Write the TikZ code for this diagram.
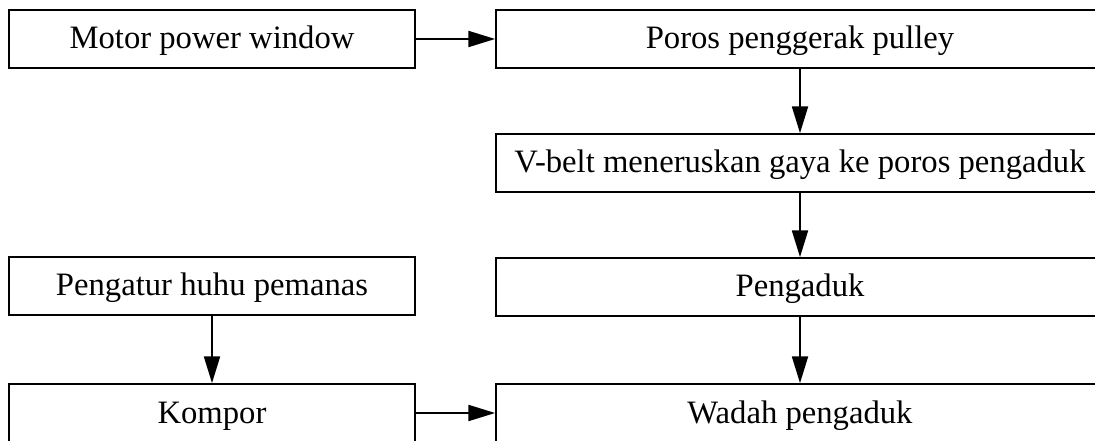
\documentclass[tikz,border=0pt]{standalone}
\usepackage{fontspec}
\setmainfont{Liberation Serif}
\usepackage{tikz}
\usetikzlibrary{arrows.meta}

\tikzset{
    blok/.style={rectangle, draw, line width=1.3pt, minimum height=43.5pt, inner sep=0pt, text height=15pt, text depth=0pt, font=\fontsize{24.5}{28}\selectfont},
    kiri/.style={blok, minimum width=304.5pt},
    kanan/.style={blok, minimum width=456pt},
    panah/.style={-{Triangle[length=20pt,width=12pt]}, line width=1.3pt}
}

\begin{document}
\begin{tikzpicture}[x=0.75pt, y=-0.75pt]
                    \useasboundingbox (0, 0) rectangle (1095, 441);
                    \node[kiri] (motor) at (212, 39) {Motor power window};
                    \node[kanan] (poros) at (800, 39) {Poros penggerak pulley};
                    \node[kanan] (vbelt) at (800, 163) {V-belt meneruskan gaya ke poros pengaduk};
                    \node[kiri] (pengatur) at (212, 286) {Pengatur huhu pemanas};
                    \node[kanan] (pengaduk) at (800, 287) {Pengaduk};
                    \node[kiri] (kompor) at (212, 413) {Kompor};
                    \node[kanan] (wadah) at (800, 413) {Wadah pengaduk};
                    \draw[panah] (motor) -- (poros);
                    \draw[panah] (poros) -- (vbelt);
                    \draw[panah] (vbelt) -- (pengaduk);
                    \draw[panah] (pengaduk) -- (wadah);
                    \draw[panah] (pengatur) -- (kompor);
                    \draw[panah] (kompor) -- (wadah);
                \end{tikzpicture}
\end{document}
